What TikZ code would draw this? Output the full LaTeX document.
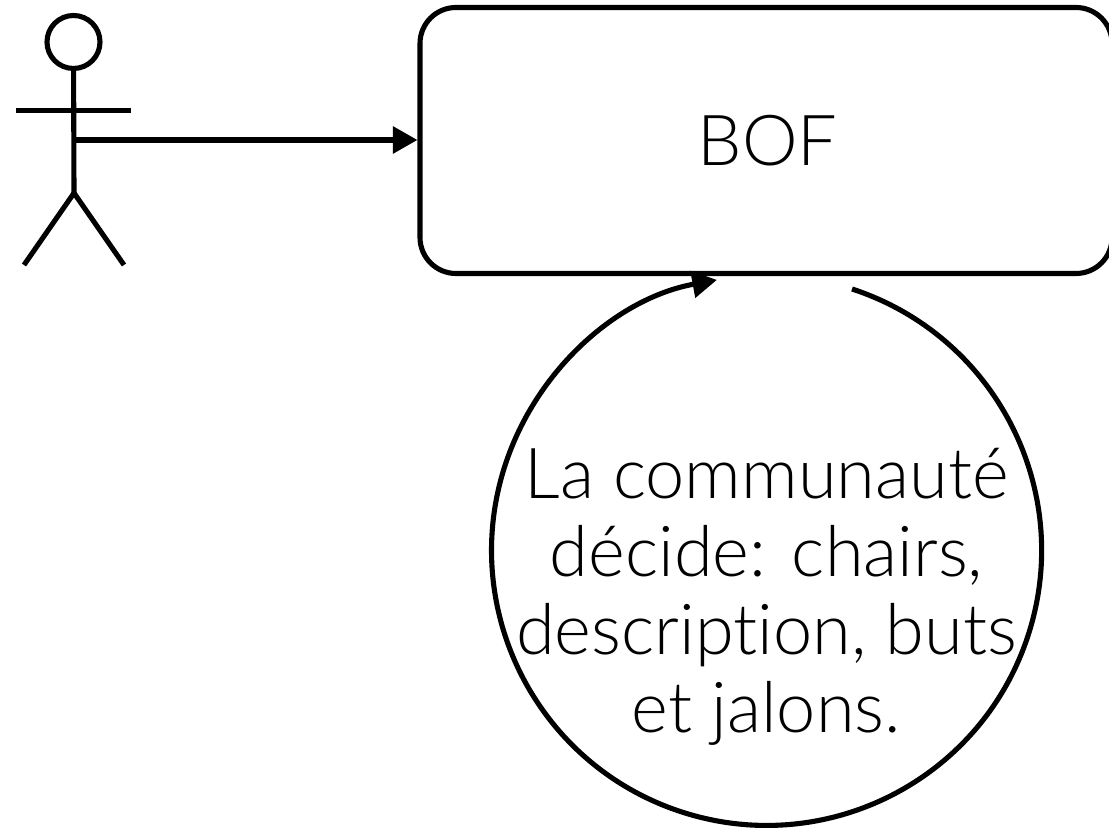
\documentclass[tikz,border=0pt]{standalone}
\usepackage{fontspec}
\setmainfont{Lato}[UprightFont=* Light, Ligatures=CommonOff]
\usetikzlibrary{arrows.meta}
\tikzset{
  stroke/.style={line width=1.45pt, black},
  tip/.style={-{Triangle[length=7pt, width=7.5pt]}},
  label/.style={font=\fontsize{20}{22.2}\selectfont, align=center},
}

\begin{document}
\begin{tikzpicture}[x=1cm, y=1cm]
    \useasboundingbox (0, 0) rectangle (11.09, 8.29);
    \node[circle, draw, stroke, minimum size=0.53cm, inner sep=0pt] (head) at (0.735, 7.87){};
    \coordinate (hip) at (0.74, 6.36);
    \coordinate (armL) at (0.16, 7.185);
    \coordinate (armR) at (1.31, 7.185);
    \coordinate (footL) at (0.24, 5.64);
    \coordinate (footR) at (1.24, 5.64);
    \coordinate (hand) at (0.74, 6.89);
    \draw[stroke] (head)--(hip);
    \draw[stroke] (armL)--(armR);
    \draw[stroke] (footL)--(hip)--(footR);
    \node[draw, stroke, rounded corners=0.36cm, minimum width=6.92cm, minimum height=2.66cm, font=\fontsize{20}{22.2}\selectfont] (bof) at (7.66, 6.885){\hspace{0.03cm}BOF};
    \draw[stroke, tip] (hand)--(bof.west |- hand);
    \node[label] (comm) at (7.665, 2.32){La communauté\\décide: chairs,\\description, buts\\et jalons.};
    \coordinate (loopStart) at (8.52, 5.40);
    \draw[stroke, tip] (loopStart) arc[start angle=71.9, end angle=-259.6, radius=2.75cm];
\end{tikzpicture}
\end{document}
